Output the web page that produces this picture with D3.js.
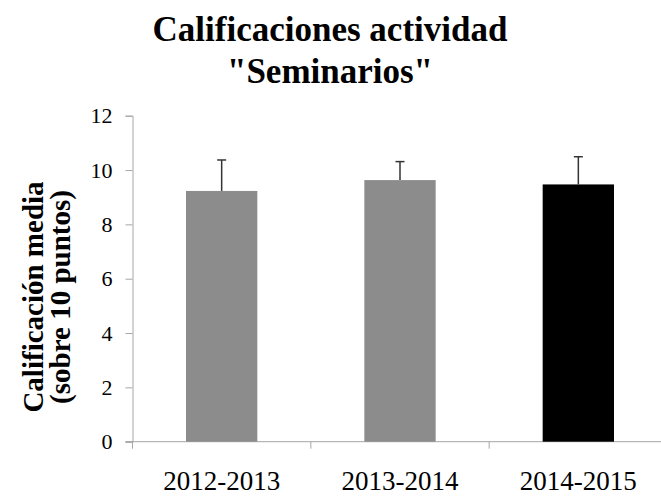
<!DOCTYPE html>
<html>
<head>
<meta charset="utf-8">
<script src="https://cdn.jsdelivr.net/npm/d3@7"></script>
<style>
  body { margin: 0; background: #fff; }
  text { font-family: "Liberation Serif", "Times New Roman", serif; }
</style>
</head>
<body>
<svg id="chart" width="661" height="496"></svg>
<script>
var cursos = ["2012-2013", "2013-2014", "2014-2015"];
var medias = [9.23, 9.63, 9.47];
var errores = [1.14, 0.68, 1.02];
var colores = ["#8c8c8c", "#8c8c8c", "#000000"];
var yTicks = [0, 2, 4, 6, 8, 10, 12];

var svg = d3.select("#chart");
var plotLeft = 132.5, plotRight = 667.5, plotTop = 115.7, plotBottom = 441.7;
var axisColor = "#a6a6a6";

var xScale = d3.scaleBand()
  .domain(cursos)
  .range([plotLeft, plotRight])
  .paddingInner(0.6)
  .paddingOuter(0.3);

var yScale = d3.scaleLinear()
  .domain([0, 12])
  .range([plotBottom, plotTop]);

// title
var title = svg.append("text")
  .attr("x", 330).attr("y", 41)
  .attr("text-anchor", "middle")
  .attr("font-size", 35).attr("font-weight", "bold");
title.append("tspan").attr("x", 330).text("Calificaciones actividad");
title.append("tspan").attr("x", 330).attr("dy", 42).text("\"Seminarios\"");

// y axis
var yAxis = svg.append("g")
  .attr("transform", "translate(" + plotLeft + ",0)")
  .call(d3.axisLeft(yScale).tickValues(yTicks).tickSize(7).tickSizeOuter(7).tickPadding(13));
yAxis.attr("font-family", null);
yAxis.select(".domain").attr("stroke", axisColor);
yAxis.selectAll(".tick line").attr("stroke", axisColor);
yAxis.selectAll("text")
  .style("font-family", "'Liberation Serif', serif")
  .style("font-size", "22px")
  .attr("fill", "#000");

// x axis line with category separators
var xAxisG = svg.append("g");
xAxisG.append("line")
  .attr("x1", plotLeft - 7).attr("x2", plotRight)
  .attr("y1", plotBottom).attr("y2", plotBottom)
  .attr("stroke", axisColor);
var seps = d3.range(cursos.length + 1).map(function(i) {
  return plotLeft + i * xScale.step();
});
xAxisG.selectAll(".sep").data(seps).enter().append("line")
  .attr("x1", function(d) { return d; }).attr("x2", function(d) { return d; })
  .attr("y1", plotBottom).attr("y2", plotBottom + 7)
  .attr("stroke", axisColor);

svg.selectAll(".xlab").data(cursos).enter().append("text")
  .attr("x", function(d) { return xScale(d) + xScale.bandwidth() / 2; })
  .attr("y", 490)
  .attr("text-anchor", "middle")
  .attr("font-size", 27)
  .text(function(d) { return d; });

// bars
svg.selectAll(".bar").data(cursos).enter().append("rect")
  .attr("x", function(d) { return xScale(d); })
  .attr("width", xScale.bandwidth())
  .attr("y", function(d, i) { return yScale(medias[i]); })
  .attr("height", function(d, i) { return plotBottom - yScale(medias[i]); })
  .attr("fill", function(d, i) { return colores[i]; });

// error bars (upper only)
var eb = svg.selectAll(".err").data(cursos).enter().append("g");
eb.append("line")
  .attr("x1", function(d) { return xScale(d) + xScale.bandwidth() / 2; })
  .attr("x2", function(d) { return xScale(d) + xScale.bandwidth() / 2; })
  .attr("y1", function(d, i) { return yScale(medias[i]); })
  .attr("y2", function(d, i) { return yScale(medias[i] + errores[i]); })
  .attr("stroke", "#333").attr("stroke-width", 1.5);
eb.append("line")
  .attr("x1", function(d) { return xScale(d) + xScale.bandwidth() / 2 - 4.5; })
  .attr("x2", function(d) { return xScale(d) + xScale.bandwidth() / 2 + 4.5; })
  .attr("y1", function(d, i) { return yScale(medias[i] + errores[i]); })
  .attr("y2", function(d, i) { return yScale(medias[i] + errores[i]); })
  .attr("stroke", "#333").attr("stroke-width", 1.5);

// y title
var yt = svg.append("text")
  .attr("transform", "translate(43,297) rotate(-90)")
  .attr("text-anchor", "middle")
  .attr("font-size", 29).attr("font-weight", "bold");
yt.append("tspan").attr("x", 0).attr("y", 0).text("Calificación media");
yt.append("tspan").attr("x", 0).attr("y", 27).text("(sobre 10 puntos)");
</script>
</body>
</html>
